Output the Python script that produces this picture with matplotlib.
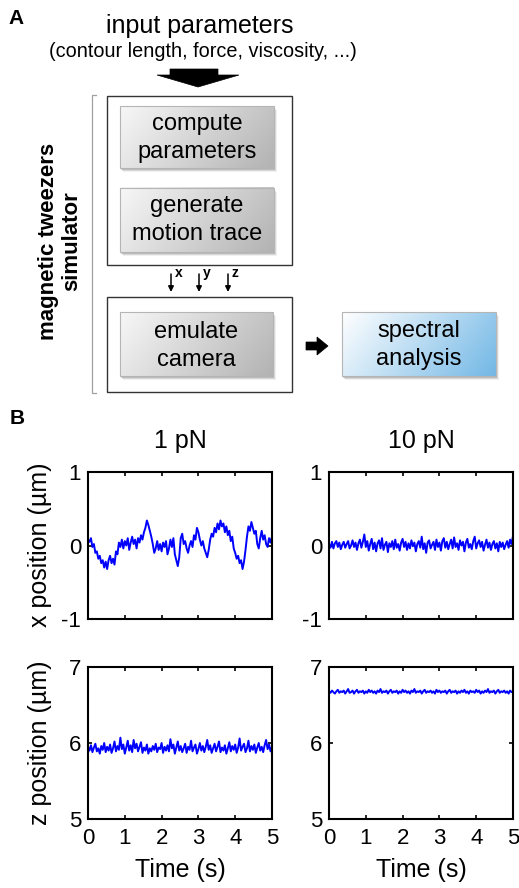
import numpy as np
import matplotlib
matplotlib.use('Agg')
import matplotlib.pyplot as plt
from matplotlib.patches import Rectangle, Polygon

plt.rcParams['font.family'] = ['Liberation Sans', 'DejaVu Sans']
plt.rcParams['axes.unicode_minus'] = False

# ---- traces, one sample every 0.04 s ----
force_labels = ['1 pN', '10 pN']

x_1pN = [0.08, 0.05, 0.10, -0.02, 0.02, -0.10, -0.08, -0.18, -0.14, -0.24,
         -0.20, -0.30, -0.22, -0.32, -0.20, -0.14, -0.24, -0.18, -0.26, -0.08,
         -0.12, 0.04, -0.02, 0.08, -0.04, 0.06, 0.00, 0.10, -0.06, 0.04,
         0.12, 0.02, 0.08, -0.04, 0.10, 0.04, 0.14, 0.08, 0.18, 0.24,
         0.34, 0.28, 0.20, 0.12, 0.02, -0.10, -0.04, 0.06, -0.06, 0.02,
         -0.08, 0.04, -0.02, 0.06, -0.12, -0.04, 0.08, -0.02, 0.10, -0.12,
         -0.20, -0.28, -0.16, 0.10, 0.16, 0.02, 0.06, -0.04, -0.10, 0.00,
         0.06, -0.02, 0.14, 0.08, 0.24, 0.18, 0.08, 0.00, 0.06, -0.04,
         -0.10, -0.16, -0.06, 0.08, 0.16, 0.12, 0.24, 0.18, 0.30, 0.22,
         0.34, 0.26, 0.30, 0.18, 0.26, 0.14, 0.20, 0.06, 0.12, -0.04,
         -0.10, -0.18, -0.14, -0.24, -0.20, -0.32, -0.22, -0.06, 0.12, 0.26,
         0.20, 0.32, 0.24, 0.16, 0.20, 0.02, -0.04, 0.10, 0.20, 0.08,
         0.14, 0.02, -0.02, 0.10, 0.04, 0.12]

x_10pN = [0.02, -0.03, 0.05, -0.04, 0.03, 0.06, -0.02, 0.04, -0.05, 0.01,
          0.05, -0.03, 0.02, 0.06, -0.04, 0.00, 0.07, -0.02, 0.04, -0.06,
          0.03, 0.08, -0.03, 0.05, 0.15, -0.02, 0.06, -0.07, 0.02, 0.09,
          -0.05, 0.04, -0.08, 0.03, 0.07, -0.04, 0.10, -0.06, 0.01, 0.05,
          -0.09, 0.03, -0.02, 0.06, -0.05, 0.08, -0.03, 0.02, -0.07, 0.04,
          0.09, -0.02, 0.05, -0.06, 0.03, -0.04, 0.07, -0.01, 0.04, -0.08,
          0.02, 0.06, -0.03, 0.12, -0.05, 0.03, -0.10, 0.04, 0.07, -0.04,
          0.01, 0.05, -0.06, 0.08, -0.02, 0.04, -0.07, 0.06, 0.10, -0.03,
          0.05, -0.05, 0.02, 0.08, -0.04, 0.11, -0.02, 0.03, -0.06, 0.07,
          0.00, 0.05, -0.08, 0.04, 0.09, -0.03, 0.02, -0.05, 0.06, 0.12,
          -0.04, 0.03, 0.07, -0.02, 0.05, -0.07, 0.01, 0.08, -0.03, 0.04,
          -0.06, 0.02, 0.06, -0.04, 0.03, -0.08, 0.05, -0.02, 0.04, -0.05,
          0.01, 0.06, -0.03, 0.08, 0.02, 0.13]

z_1pN = [5.95, 5.90, 5.97, 5.88, 5.94, 5.99, 5.89, 5.93, 5.86, 5.96,
         5.91, 6.00, 5.88, 5.95, 5.90, 5.98, 5.87, 5.93, 6.02, 5.89,
         5.96, 5.91, 6.07, 5.92, 5.98, 5.86, 5.94, 6.03, 5.90, 5.97,
         5.88, 6.04, 5.93, 5.99, 5.89, 5.95, 6.01, 5.87, 5.94, 5.90,
         5.98, 5.86, 5.93, 5.89, 5.96, 5.91, 5.99, 5.88, 5.94, 5.92,
         6.00, 5.87, 5.95, 5.90, 5.97, 5.89, 6.05, 5.93, 5.98, 5.86,
         5.94, 6.02, 5.90, 5.96, 5.88, 5.93, 5.99, 5.87, 5.95, 5.91,
         6.03, 5.89, 5.94, 5.98, 5.86, 5.92, 6.00, 5.90, 5.96, 5.88,
         5.95, 6.04, 5.91, 5.97, 5.87, 5.93, 5.99, 5.89, 5.95, 6.02,
         5.88, 5.94, 5.90, 5.97, 5.86, 5.93, 6.01, 5.89, 5.96, 5.91,
         5.98, 5.87, 5.94, 6.06, 5.90, 5.95, 5.99, 5.88, 5.93, 6.03,
         5.89, 5.96, 5.91, 5.98, 5.87, 5.94, 6.00, 5.90, 5.95, 5.88,
         5.97, 6.04, 5.92, 5.98, 5.89, 5.95]

z_10pN = [6.68, 6.66, 6.69, 6.67, 6.65, 6.68, 6.70, 6.66, 6.68, 6.67,
          6.69, 6.65, 6.68, 6.71, 6.66, 6.67, 6.69, 6.65, 6.68, 6.70,
          6.66, 6.68, 6.67, 6.69, 6.65, 6.68, 6.66, 6.70, 6.67, 6.69,
          6.66, 6.68, 6.65, 6.69, 6.67, 6.71, 6.66, 6.68, 6.67, 6.69,
          6.65, 6.68, 6.70, 6.66, 6.68, 6.67, 6.69, 6.65, 6.68, 6.66,
          6.70, 6.67, 6.69, 6.66, 6.68, 6.65, 6.69, 6.67, 6.71, 6.66,
          6.68, 6.67, 6.69, 6.65, 6.68, 6.70, 6.66, 6.68, 6.67, 6.69,
          6.66, 6.68, 6.65, 6.70, 6.67, 6.69, 6.66, 6.68, 6.67, 6.69,
          6.65, 6.68, 6.70, 6.66, 6.68, 6.67, 6.69, 6.65, 6.68, 6.66,
          6.69, 6.67, 6.70, 6.66, 6.68, 6.65, 6.69, 6.67, 6.68, 6.66,
          6.70, 6.67, 6.69, 6.65, 6.68, 6.66, 6.69, 6.67, 6.71, 6.66,
          6.68, 6.67, 6.69, 6.65, 6.68, 6.70, 6.66, 6.68, 6.67, 6.69,
          6.66, 6.68, 6.65, 6.69, 6.67, 6.68]

time_s = np.linspace(0, 5, len(x_1pN))
time_ticks = [0, 1, 2, 3, 4, 5]
x_ticks = [-1, 0, 1]
z_ticks = [5, 6, 7]

fig = plt.figure(figsize=(5.19, 8.88), dpi=100)

# ---- panel A: flow chart drawn in pixel coordinates ----
ax0 = fig.add_axes([0, 0, 1, 1])
ax0.set_xlim(0, 519)
ax0.set_ylim(888, 0)
ax0.axis('off')


def shaded_box(x0, y0, x1, y1, c_left, c_right, lines, baselines):
    for k, a in [(4, 0.10), (3, 0.18), (2, 0.28)]:
        ax0.add_patch(Rectangle((x0 + k - 1, y0 + k), x1 - x0, y1 - y0,
                                fc='#707070', ec='none', alpha=a, zorder=1))
    gx = np.linspace(0, 1, 200)[None, :]
    gy = np.linspace(0, 1, 60)[:, None]
    t = np.clip(0.75 * gx + 0.25 * gy, 0, 1)
    img = (1 - t)[..., None] * np.array(c_left) + t[..., None] * np.array(c_right)
    ax0.imshow(img, extent=(x0, x1, y1, y0), aspect='auto', zorder=2)
    ax0.add_patch(Rectangle((x0, y0), x1 - x0, y1 - y0, fc='none',
                            ec='#b5b5b5', lw=0.8, zorder=3))
    for s, yb in zip(lines, baselines):
        ax0.text((x0 + x1) / 2, yb, s, ha='center', va='baseline',
                 fontsize=17, zorder=4)


gray_l, gray_r = (0.97, 0.97, 0.97), (0.70, 0.70, 0.70)
shaded_box(120, 106, 274, 168, gray_l, gray_r, ['compute', 'parameters'], [130, 158])
shaded_box(120, 188, 274, 252, gray_l, gray_r, ['generate', 'motion trace'], [212, 240])
shaded_box(120, 312, 273, 376, gray_l, gray_r, ['emulate', 'camera'], [338, 366])
shaded_box(342, 312, 496, 376, (1.0, 1.0, 1.0), (0.45, 0.72, 0.90),
           ['spectral', 'analysis'], [337, 365])

ax0.add_patch(Rectangle((107, 96), 185, 169, fc='none', ec='#333333', lw=1.0))
ax0.add_patch(Rectangle((107, 297), 185, 95, fc='none', ec='#333333', lw=1.0))

# bracket
ax0.plot([96, 92, 92, 96], [95, 95, 393, 393], color='#a0a0a0', lw=0.9)

ax0.text(16, 19, 'A', fontsize=15, fontweight='bold', ha='center', va='center')
ax0.text(17, 418, 'B', fontsize=15, fontweight='bold', ha='center', va='center')
ax0.text(200, 33, 'input parameters', fontsize=18, ha='center', va='baseline')
ax0.text(203, 57, '(contour length, force, viscosity, ...)', fontsize=14.3,
         ha='center', va='baseline')
ax0.add_patch(Polygon([(170, 69), (218, 69), (218, 75), (239, 75), (198, 87),
                       (157, 75), (170, 75)], closed=True, fc='black', ec='black', lw=0.5))
ax0.add_patch(Polygon([(306, 342), (317, 342), (317, 337), (328, 346),
                       (317, 355), (317, 350), (306, 350)], closed=True,
                      fc='black', ec='black', lw=0.5))
for xa, lab in zip([171, 199, 228], ['x', 'y', 'z']):
    ax0.annotate('', xy=(xa, 292), xytext=(xa, 274),
                 arrowprops=dict(arrowstyle='-|>', lw=1.1, color='black',
                                 mutation_scale=8, shrinkA=0, shrinkB=0))
    ax0.text(xa + 4, 277, lab, fontsize=10, fontweight='bold', ha='left', va='baseline')
ax0.text(60, 241, 'magnetic tweezers\nsimulator', rotation=90, fontsize=16,
         fontweight='bold', ha='center', va='center', multialignment='center',
         linespacing=1.15)

# ---- panel B: position traces ----
lefts = [88 / 519, 329 / 519]
width = 184 / 519
top_row = [(888 - 619) / 888, 147 / 888]
bot_row = [(888 - 819) / 888, 152 / 888]

traces = [(x_1pN, z_1pN), (x_10pN, z_10pN)]
for col, (xs, zs) in enumerate(traces):
    for row, (vals, ticks, lim) in enumerate([(xs, x_ticks, (-1, 1)),
                                               (zs, z_ticks, (5, 7))]):
        b, h = top_row if row == 0 else bot_row
        ax = fig.add_axes([lefts[col], b, width, h])
        ax.plot(time_s, vals, color='#0000ff', lw=1.4)
        ax.set_xlim(0, 5)
        ax.set_ylim(*lim)
        ax.set_xticks(time_ticks)
        ax.set_yticks(ticks)
        ax.tick_params(direction='in', top=True, right=True, length=3,
                       width=1.2, labelsize=16, pad=5)
        ax.tick_params(axis='x', pad=6.5)
        if row == 0:
            ax.set_xticklabels([])
        for s in ax.spines.values():
            s.set_linewidth(1.5)
    cx = (lefts[col] + width / 2) * 519
    ax0.text(cx, 448, force_labels[col], fontsize=18, ha='center', va='baseline')
    ax0.text(cx, 877, 'Time (s)', fontsize=18, ha='center', va='baseline')

ax0.text(40, 545, 'x position (µm)', rotation=90, fontsize=18, ha='center', va='center')
ax0.text(40, 743, 'z position (µm)', rotation=90, fontsize=18, ha='center', va='center')

ax0.set_xlim(0, 519)
ax0.set_ylim(888, 0)

fig.savefig('out.png', dpi=100)
